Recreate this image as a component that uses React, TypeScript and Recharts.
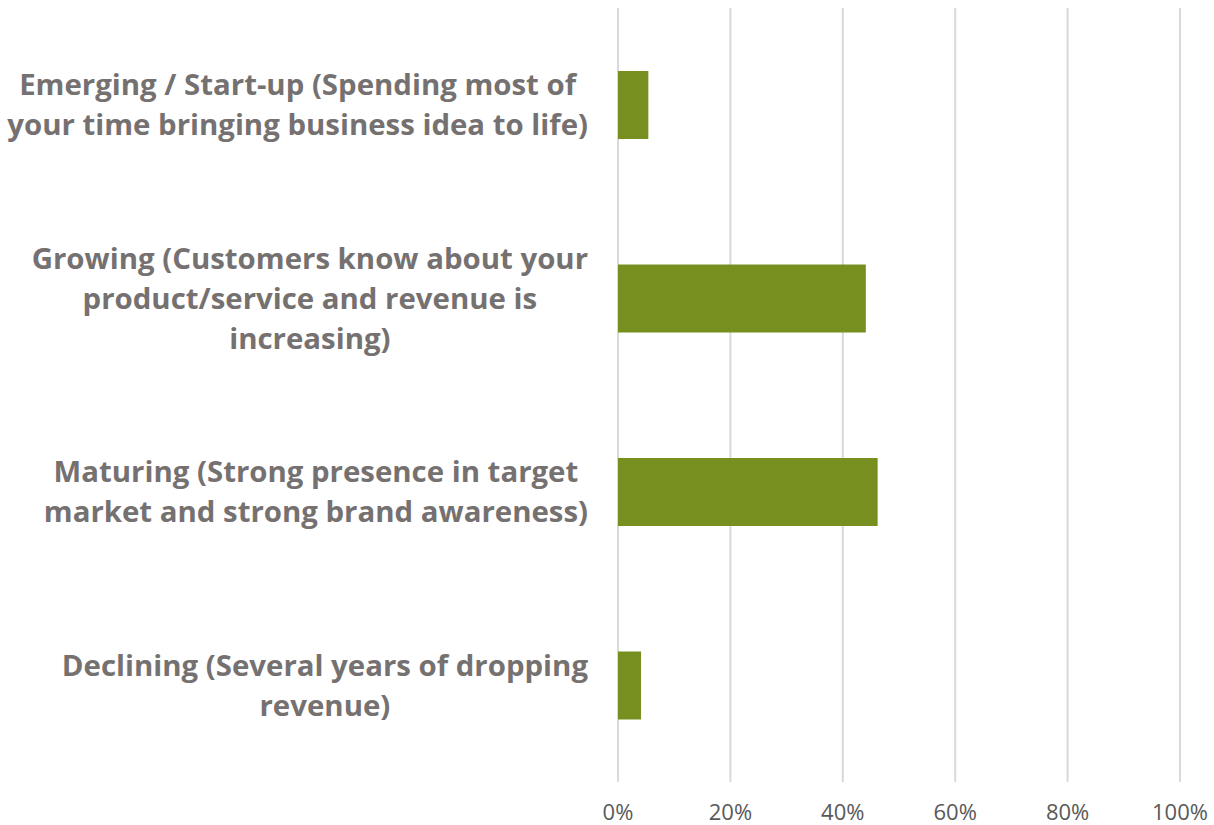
import { BarChart, Bar, XAxis, YAxis, CartesianGrid } from "recharts";

// business stage categories (line breaks as drawn in the reference)
const stages = [
  "Emerging / Start-up (Spending most of\nyour time bringing business idea to life)",
  "Growing (Customers know about your\nproduct/service and revenue is\nincreasing)",
  "Maturing (Strong presence in target\nmarket and strong brand awareness)",
  "Declining (Several years of dropping\nrevenue)",
];
const shares = [5.4, 44.1, 46.2, 4.1];
const xTicks = [0, 20, 40, 60, 80, 100];

const data = stages.map((stage, i) => ({ stage, share: shares[i] }));

const barColor = "#778F1E";
const labelColor = "#767171";
const tickColor = "#595959";
const gridColor = "#D9D9D9";
const labelFont = "bold 29.4px 'Open Sans'";
const LABEL_RIGHT = 588;
const LINE_H = 40;

let ctx: CanvasRenderingContext2D | null = null;
function textWidth(s: string) {
  if (!ctx) ctx = document.createElement("canvas").getContext("2d");
  if (!ctx) return s.length * 15;
  ctx.font = labelFont;
  return ctx.measureText(s).width;
}

function StageTick({ y, payload }: any) {
  const lines: string[] = String(payload.value).split("\n");
  const maxW = Math.max(...lines.map(textWidth));
  const cx = LABEL_RIGHT - maxW / 2;
  const top = y - ((lines.length - 1) * LINE_H) / 2;
  return (
    <text
      textAnchor="middle"
      fill={labelColor}
      style={{ font: labelFont }}
    >
      {lines.map((l, i) => (
        <tspan key={i} x={cx} y={top + i * LINE_H} dy="0.36em">
          {l}
        </tspan>
      ))}
    </text>
  );
}

function PctTick({ x, payload }: any) {
  return (
    <text
      x={x}
      y={820}
      textAnchor="middle"
      fill={tickColor}
      style={{ fontFamily: "'Open Sans'", fontSize: 22 }}
    >
      {payload.value}%
    </text>
  );
}

export default function App() {
  return (
    <div style={{ position: "absolute", left: 0, top: 0, background: "#fff" }}>
      <BarChart
        width={1214}
        height={825}
        data={data}
        layout="vertical"
        margin={{ top: 8, right: 34, left: 0, bottom: 0 }}
      >
        <CartesianGrid
          horizontal={false}
          stroke={gridColor}
          strokeWidth={2}
        />
        <XAxis
          type="number"
          domain={[0, 100]}
          ticks={xTicks}
          height={43}
          axisLine={false}
          tickLine={false}
          tick={<PctTick />}
        />
        <YAxis
          type="category"
          dataKey="stage"
          width={618}
          axisLine={false}
          tickLine={false}
          interval={0}
          tick={<StageTick />}
        />
        <Bar
          dataKey="share"
          fill={barColor}
          barSize={68}
          isAnimationActive={false}
        />
      </BarChart>
    </div>
  );
}
